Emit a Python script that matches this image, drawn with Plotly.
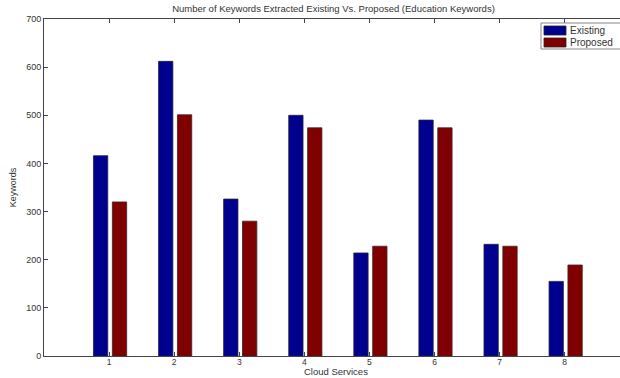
import plotly.graph_objects as go

categories = [1, 2, 3, 4, 5, 6, 7, 8]
existing = [416, 612, 326, 500, 214, 490, 232, 155]
proposed = [320, 501, 280, 474, 228, 474, 228, 189]
y_ticks = [0, 100, 200, 300, 400, 500, 600, 700]
series_names = ["Existing", "Proposed"]
series_colors = ["#00008F", "#800000"]

fig = go.Figure()
fig.add_trace(go.Bar(x=categories, y=existing, name=series_names[0], offset=-0.24, width=0.22,
                     marker=dict(color=series_colors[0], line=dict(color="#222244", width=0.8))))
fig.add_trace(go.Bar(x=categories, y=proposed, name=series_names[1], offset=0.05, width=0.22,
                     marker=dict(color=series_colors[1], line=dict(color="#442222", width=0.8))))

L, T, W, H = 44, 19, 576, 337


def px(x):
    return (x - L) / W


def py(y):
    return (T + H - y) / H


font = "Liberation Sans, Arial, sans-serif"
shapes = [
    dict(type="rect", xref="paper", yref="paper", x0=px(541), x1=px(640), y0=py(49), y1=py(23),
         line=dict(color="#888888", width=1), fillcolor="white", layer="above"),
]
annotations = []
for i, (nm, col) in enumerate(zip(series_names, series_colors)):
    top = 26 + i * 12
    shapes.append(dict(type="rect", xref="paper", yref="paper", x0=px(544), x1=px(566),
                       y0=py(top + 9), y1=py(top), line=dict(color="#222222", width=0.8),
                       fillcolor=col, layer="above"))
    annotations.append(dict(text=nm, xref="paper", yref="paper", x=px(568), y=py(top + 4.5),
                            xanchor="left", yanchor="middle", showarrow=False,
                            font=dict(size=10, color="#333333")))
annotations.append(dict(text="Cloud Services", xref="paper", yref="paper", x=px(336),
                        y=py(378), xanchor="center", yanchor="bottom", showarrow=False,
                        borderpad=0, font=dict(size=9.5, color="#333333")))

fig.update_layout(
    width=620, height=378,
    margin=dict(l=L, r=620 - L - W, t=T, b=378 - T - H),
    paper_bgcolor="white", plot_bgcolor="white",
    font=dict(family=font, size=9, color="#333333"),
    title=dict(text="Number of Keywords Extracted Existing Vs. Proposed (Education Keywords)",
               x=px(333.5), xanchor="center", xref="paper", y=0.985, yanchor="top",
               font=dict(size=9.5, color="#333333")),
    showlegend=False,
    shapes=shapes,
    annotations=annotations,
)
fig.update_xaxes(range=[0, 8.85], tickvals=categories, ticktext=[str(c) for c in categories],
                 ticks="inside", ticklen=4, tickcolor="#444", showline=True, linecolor="#444",
                 linewidth=1, mirror="ticks", showgrid=False, zeroline=False,
                 tickfont=dict(size=8.5), ticklabelstandoff=-2)
fig.update_yaxes(range=[0, 700], tickvals=y_ticks, ticks="inside", ticklen=4, tickcolor="#444",
                 showline=True, linecolor="#444", linewidth=1, mirror=False, showgrid=False,
                 zeroline=False, title=dict(text="Keywords", standoff=8, font=dict(size=9)))

fig.write_html("out.html")
